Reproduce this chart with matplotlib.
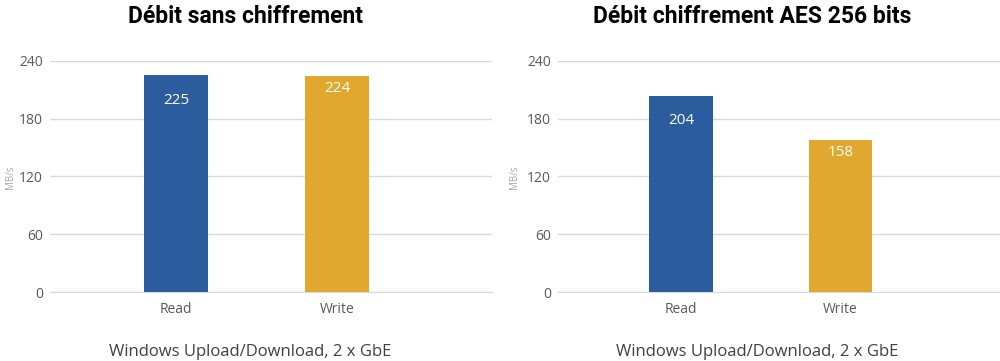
import matplotlib.pyplot as plt

# -------------------------------
# Data
# -------------------------------

categories = ["Read", "Write"]
plain_values = [225, 224]
aes_values = [204, 158]
titles = ["Débit sans chiffrement", "Débit chiffrement AES 256 bits"]
subtitle = "Windows Upload/Download, 2 x GbE"
y_ticks = [0, 60, 120, 180, 240]

bar_colors = ["#2B5C9E", "#E0A82E"]
grid_color = "#D9D9D9"
tick_color = "#595959"
# label drop below bar top (data units), Read labels sit lower in the original
label_drop = [26, 13]

plt.rcParams["font.family"] = ["Open Sans", "DejaVu Sans"]

fig = plt.figure(figsize=(10, 3.61), dpi=100)

panels = [
    (plain_values, titles[0], [0.05, 0.1911, 0.442, 0.64], (-0.78, 1.96), 0.245, 0.010),
    (aes_values, titles[1], [0.558, 0.1911, 0.442, 0.64], (-0.77, 2.0), 0.752, 0.515),
]

for values, title, rect, xlim, cx, lx in panels:
    ax = fig.add_axes(rect)
    x = list(range(len(categories)))
    bars = ax.bar(x, values, width=0.4, color=bar_colors, zorder=3)
    for b, v, d in zip(bars, values, label_drop):
        ax.text(b.get_x() + b.get_width() / 2, v - d, str(v),
                ha="center", va="center", color="white", fontsize=11, zorder=4)
    ax.set_ylim(0, 240)
    ax.set_xlim(*xlim)
    ax.set_yticks(y_ticks)
    ax.set_xticks(x)
    ax.set_xticklabels(categories)
    ax.yaxis.grid(True, color=grid_color, linewidth=1, zorder=0)
    for s in ["top", "right", "left"]:
        ax.spines[s].set_visible(False)
    ax.spines["bottom"].set_color(grid_color)
    ax.tick_params(axis="both", length=0, colors=tick_color, labelsize=10)
    ax.tick_params(axis="y", pad=5)
    ax.tick_params(axis="x", pad=7)
    fig.text(lx, 0.51, "MB/s", rotation=90, ha="center", va="center",
             color="#A6A6A6", fontsize=7)
    fig.text(cx, 0.955, title, ha="center", va="center",
             fontsize=16.5, fontweight="bold", family=["Roboto", "DejaVu Sans"])
    fig.text(cx + 0.005, 0.025, subtitle, ha="center", va="center",
             fontsize=12, color="#404040")

fig.savefig("out.png", dpi=100)
